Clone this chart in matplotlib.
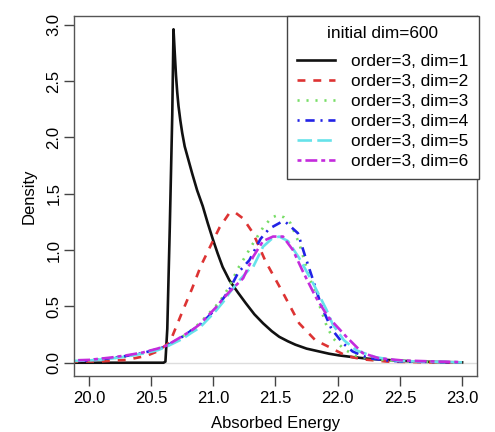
"""
Density of absorbed energy for order-3 reductions of an initial dim=600 system.
"""

import matplotlib
matplotlib.use('Agg')
import matplotlib.pyplot as plt

plt.rcParams.update({
    'font.family': ['Liberation Sans', 'DejaVu Sans'],
    'font.size': 12,
    'axes.labelsize': 12,
    'xtick.labelsize': 12,
    'ytick.labelsize': 12,
})

# order=3, dim=1
x_dim1 = [19.85, 20.60, 20.615, 20.63, 20.65, 20.67, 20.68, 20.69, 20.70, 20.71,
          20.72, 20.735, 20.75, 20.77, 20.80, 20.83, 20.87, 20.915, 20.955, 20.995,
          21.035, 21.075, 21.13, 21.20, 21.26, 21.33, 21.40, 21.47, 21.53, 21.60,
          21.66, 21.75, 21.85, 21.93, 22.01, 22.12, 22.25, 22.39, 22.60, 22.80, 23.0]
y_dim1 = [0.0, 0.0, 0.01, 0.30, 1.20, 2.20, 2.96, 2.75, 2.55, 2.40,
          2.28, 2.15, 2.04, 1.92, 1.80, 1.68, 1.53, 1.39, 1.24, 1.10,
          0.97, 0.85, 0.73, 0.62, 0.53, 0.43, 0.35, 0.28, 0.23, 0.19,
          0.16, 0.125, 0.10, 0.08, 0.065, 0.05, 0.035, 0.025, 0.012, 0.006, 0.003]

# order=3, dim=2
x_dim2 = [19.85, 20.10, 20.30, 20.46, 20.55, 20.65, 20.75, 20.83, 20.90, 20.97,
          21.05, 21.13, 21.18, 21.24, 21.32, 21.42, 21.56, 21.69, 21.82, 21.93,
          22.07, 22.20, 22.40, 22.70, 23.0]
y_dim2 = [0.01, 0.012, 0.025, 0.06, 0.10, 0.18, 0.45, 0.66, 0.86, 1.02,
          1.20, 1.33, 1.33, 1.28, 1.15, 0.90, 0.62, 0.35, 0.20, 0.14,
          0.06, 0.03, 0.01, 0.004, 0.002]

# order=3, dim=3
x_dim3 = [19.85, 20.00, 20.15, 20.30, 20.45, 20.55, 20.65, 20.75, 20.85, 20.95,
          21.05, 21.12, 21.20, 21.25, 21.32, 21.40, 21.47, 21.52, 21.57, 21.62,
          21.69, 21.77, 21.84, 21.91, 21.96, 22.05, 22.15, 22.30, 22.50, 22.80, 23.0]
y_dim3 = [0.015, 0.02, 0.035, 0.055, 0.09, 0.12, 0.16, 0.23, 0.31, 0.42,
          0.54, 0.66, 0.84, 0.93, 1.06, 1.20, 1.29, 1.31, 1.29, 1.24,
          1.06, 0.77, 0.55, 0.33, 0.22, 0.12, 0.06, 0.03, 0.012, 0.005, 0.003]

# order=3, dim=4
x_dim4 = [19.85, 20.00, 20.17, 20.30, 20.43, 20.55, 20.62, 20.75, 20.83, 20.89,
          20.96, 21.02, 21.08, 21.13, 21.20, 21.29, 21.38, 21.45, 21.54, 21.58,
          21.61, 21.68, 21.74, 21.80, 21.87, 21.95, 22.04, 22.12, 22.25, 22.40,
          22.52, 23.0]
y_dim4 = [0.015, 0.02, 0.04, 0.06, 0.085, 0.12, 0.145, 0.23, 0.29, 0.33,
          0.41, 0.48, 0.57, 0.65, 0.80, 0.91, 1.10, 1.19, 1.245, 1.25,
          1.22, 1.15, 0.94, 0.74, 0.50, 0.30, 0.175, 0.10, 0.04, 0.02,
          0.01, 0.003]

# order=3, dim=5
x_dim5 = [19.85, 20.00, 20.17, 20.30, 20.43, 20.55, 20.62, 20.75, 20.83, 20.89,
          20.96, 21.02, 21.08, 21.13, 21.20, 21.29, 21.32, 21.40, 21.47, 21.53,
          21.60, 21.69, 21.80, 21.91, 21.96, 22.05, 22.15, 22.30, 22.50, 23.0]
y_dim5 = [0.015, 0.02, 0.035, 0.055, 0.08, 0.11, 0.14, 0.21, 0.27, 0.31,
          0.39, 0.46, 0.54, 0.62, 0.72, 0.83, 0.85, 1.03, 1.10, 1.12,
          1.08, 0.93, 0.71, 0.47, 0.34, 0.20, 0.11, 0.05, 0.015, 0.003]

# order=3, dim=6
x_dim6 = [19.85, 20.00, 20.17, 20.30, 20.43, 20.55, 20.62, 20.75, 20.83, 20.89,
          20.96, 21.02, 21.08, 21.13, 21.24, 21.32, 21.40, 21.48, 21.56, 21.64,
          21.72, 21.82, 21.92, 22.07, 22.20, 22.33, 22.52, 22.80, 23.0]
y_dim6 = [0.02, 0.025, 0.045, 0.065, 0.09, 0.125, 0.15, 0.235, 0.29, 0.34,
          0.42, 0.49, 0.57, 0.63, 0.75, 0.94, 1.08, 1.12, 1.12, 1.00,
          0.81, 0.59, 0.41, 0.23, 0.086, 0.04, 0.02, 0.01, 0.005]

labels = ['order=3, dim=1', 'order=3, dim=2', 'order=3, dim=3',
          'order=3, dim=4', 'order=3, dim=5', 'order=3, dim=6']

# R-like colours and lty patterns (solid, dashed, dotted, dotdash, longdash, twodash)
colors = ['#111111', '#dd3333', '#77dd66', '#2222e6', '#66e2ea', '#c42bdc']
styles = ['-', (0, (3, 3)), (0, (0.8, 2.6)), (0, (0.8, 2.2, 3.5, 2.2)),
          (0, (5.5, 2)), (0, (1.5, 1.5, 4.5, 1.5))]

fig = plt.figure(figsize=(4.95, 4.32), dpi=100)
ax = fig.add_axes([74 / 495, 1 - 376 / 432, (477 - 74) / 495, (376 - 16) / 432])

ax.axhline(0, color='#dddddd', linewidth=1, zorder=1)

series = [(x_dim1, y_dim1), (x_dim2, y_dim2), (x_dim3, y_dim3),
          (x_dim4, y_dim4), (x_dim5, y_dim5), (x_dim6, y_dim6)]
for (xs, ys), c, ls, lab in zip(series, colors, styles, labels):
    ax.plot(xs, ys, color=c, linestyle=ls, linewidth=1.9, label=lab, zorder=2)

ax.set_xlim(19.88, 23.12)
ax.set_ylim(-0.118, 3.078)
ax.set_xticks([20.0, 20.5, 21.0, 21.5, 22.0, 22.5, 23.0])
ax.set_yticks([0.0, 0.5, 1.0, 1.5, 2.0, 2.5, 3.0])
ax.set_xticklabels(['20.0', '20.5', '21.0', '21.5', '22.0', '22.5', '23.0'])
ax.set_yticklabels(['0.0', '0.5', '1.0', '1.5', '2.0', '2.5', '3.0'],
                   rotation=90, va='center')
ax.tick_params(direction='out', length=7, width=1, color='#444444')
ax.tick_params(axis='y', pad=2)
ax.tick_params(axis='x', pad=4)
for sp in ax.spines.values():
    sp.set_color('#555555')
    sp.set_linewidth(1)

ax.set_xlabel('Absorbed Energy', labelpad=7)
ax.set_ylabel('Density', labelpad=7)

leg = ax.legend(loc='upper right', bbox_to_anchor=(1.005, 1.0), borderaxespad=0,
                title='initial dim=600', title_fontsize=12.4, fontsize=12.4,
                frameon=True, fancybox=False, framealpha=1, edgecolor='#444444',
                handlelength=2.2, handletextpad=0.95, labelspacing=0.29, borderpad=0.6)
leg.get_frame().set_linewidth(1)
# wider gap between legend title and entries
leg._legend_box.sep = 9

fig.savefig('out.png', dpi=100)
